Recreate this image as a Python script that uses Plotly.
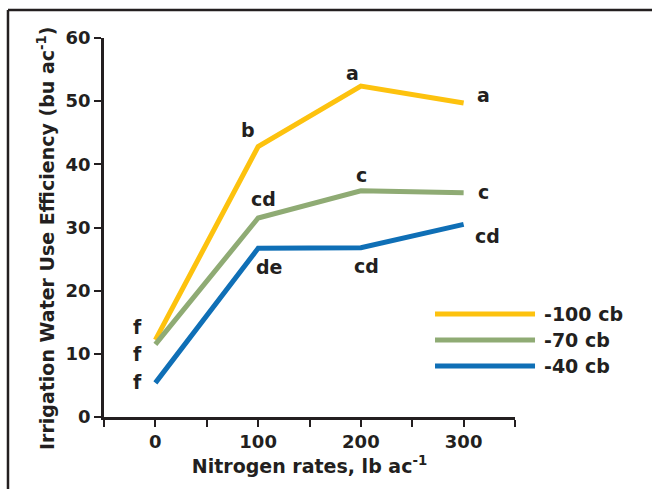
import plotly.graph_objects as go

n_rates = [0, 100, 200, 300]
series_names = ["-100 cb", "-70 cb", "-40 cb"]
iwue_100 = [12.2, 42.8, 52.4, 49.7]
iwue_70 = [11.5, 31.5, 35.8, 35.5]
iwue_40 = [5.4, 26.7, 26.8, 30.5]
letters_100 = ["f", "b", "a", "a"]
letters_70 = ["f", "cd", "c", "c"]
letters_40 = ["f", "de", "cd", "cd"]

colors = ["#FDC20E", "#8FAB74", "#0F6FB6"]
ink = "#231F20"
FONT = "DejaVu Sans"

fig = go.Figure()
for name, ys, c in zip(series_names, [iwue_100, iwue_70, iwue_40], colors):
    fig.add_trace(go.Scatter(x=n_rates, y=ys, mode="lines", name=name,
                             line=dict(color=c, width=5), showlegend=False))

label_pos = [
    [(-17.5, 14.2), (90, 45.4), (192, 54.4), (319, 51.0)],
    [(-17.5, 10.0), (105, 34.5), (201, 38.3), (319, 35.6)],
    [(-17.5, 5.5), (110.7, 23.7), (205, 23.9), (323, 28.6)],
]
annotations = []
for letters, pos in zip([letters_100, letters_70, letters_40], label_pos):
    for t, (lx, ly) in zip(letters, pos):
        annotations.append(dict(x=lx, y=ly, xref="x", yref="y", text=t, showarrow=False,
                                xanchor="center", yanchor="middle",
                                font=dict(family=FONT, size=19, color=ink, weight="bold")))

shapes = []
leg_y = [0.2718, 0.2032, 0.1346]
for name, c, yy in zip(series_names, colors, leg_y):
    shapes.append(dict(type="line", xref="paper", yref="paper", x0=0.8054, x1=1.0487,
                       y0=yy, y1=yy, line=dict(color=c, width=5)))
    annotations.append(dict(x=1.066, y=yy, xref="paper", yref="paper", text=name,
                            showarrow=False, xanchor="left", yanchor="middle",
                            font=dict(family=FONT, size=19, color=ink, weight="bold")))

# y-axis title as rotated annotation
annotations.append(dict(x=-0.1411, y=0.4697, xref="paper", yref="paper",
                        text="Irrigation Water Use Efficiency (bu ac<sup>-1</sup>)",
                        textangle=-90, showarrow=False, xanchor="center", yanchor="middle",
                        font=dict(family=FONT, size=19, color=ink, weight="bold")))

shapes.append(dict(type="line", xref="paper", yref="paper", x0=-0.2336, x1=1.4,
                   y0=1.0739, y1=1.0739, line=dict(color=ink, width=2.5)))
shapes.append(dict(type="line", xref="paper", yref="paper", x0=-0.2336, x1=-0.2336,
                   y0=1.0739, y1=-0.3, line=dict(color=ink, width=2.5)))

xt = [-50, 0, 50, 100, 150, 200, 250, 300, 350]
xtt = ["", "0", "", "100", "", "200", "", "300", ""]

fig.update_layout(
    width=652, height=489,
    margin=dict(l=104, r=137, t=38, b=72),
    paper_bgcolor="white", plot_bgcolor="white",
    font=dict(family=FONT, color=ink),
    xaxis=dict(range=[-50, 350], tickmode="array", tickvals=xt, ticktext=xtt,
               showgrid=False, zeroline=False, showline=True, linecolor=ink, linewidth=2.5,
               ticks="outside", ticklen=7, tickwidth=2, tickcolor=ink,
               tickfont=dict(family=FONT, size=18, color=ink, weight="bold"),
               title=dict(text="Nitrogen rates, lb ac<sup>-1</sup>", standoff=9,
                          font=dict(family=FONT, size=19, color=ink, weight="bold"))),
    yaxis=dict(range=[0, 60], tickmode="array", tickvals=[0, 10, 20, 30, 40, 50, 60],
               showgrid=False, zeroline=False, showline=True, linecolor=ink, linewidth=2.5,
               ticks="outside", ticklen=7, tickwidth=2, tickcolor=ink,
               tickfont=dict(family=FONT, size=18, color=ink, weight="bold")),
    annotations=annotations, shapes=shapes,
)

fig.write_html("out.html")
